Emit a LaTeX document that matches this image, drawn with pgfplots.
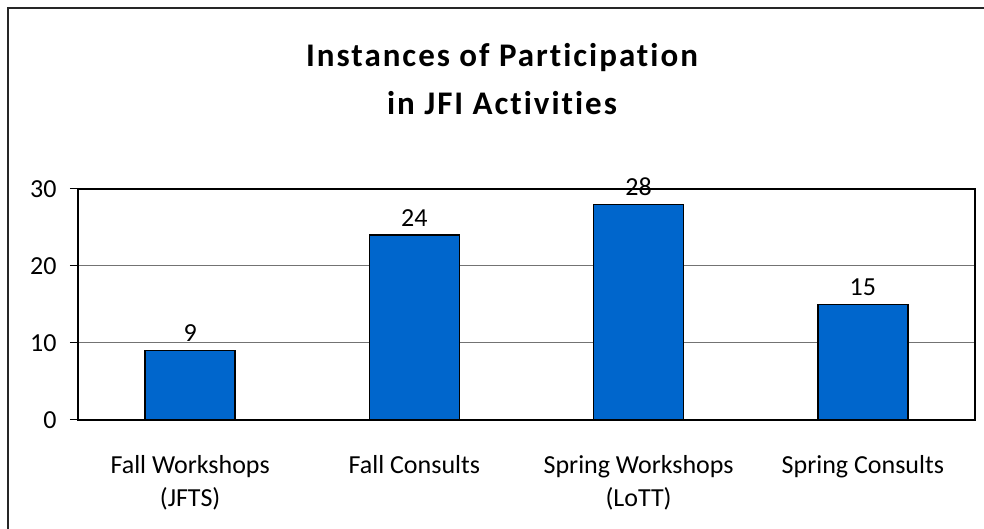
\documentclass[border=0pt]{standalone}
\usepackage{fontspec}
\setmainfont{Carlito}[Ligatures=NoCommon]
\newfontfamily\titlefont{Carlito}[Ligatures=NoCommon, LetterSpace=6]
\usepackage{pgfplots}
\pgfplotsset{compat=1.18}
\definecolor{barblue}{HTML}{0066CC}
\begin{document}
\begin{tikzpicture}[x=1pt,y=1pt]
\useasboundingbox (0,0) rectangle (984,529);
\draw[line width=2pt, black!85] (8,0) -- (8,521) -- (984,521);
\node[font=\titlefont\bfseries\fontsize{33}{48}\selectfont, align=center] at (502,450) {Instances of Participation\\in JFI Activities};
\begin{axis}[
  at={(78pt,109pt)}, anchor=south west,
  scale only axis, width=897pt, height=231pt,
  xmin=-0.5, xmax=3.5, ymin=0, ymax=30,
  ytick={0,10,20,30}, xtick={0,1,2,3},
  xticklabels={{Fall Workshops\\(JFTS)},{Fall Consults},{Spring Workshops\\(LoTT)},{Spring Consults}},
  /pgf/number format/assume math mode=true,
  ymajorgrids, grid style={black!55, line width=1pt},
  axis line style={line width=2pt},
  tick align=outside, major tick length=8pt,
  ytick pos=left,
  x tick style={draw=none},
  y tick style={black, line width=1pt},
  ticklabel style={font=\fontsize{26}{33}\selectfont},
  xticklabel style={align=center, yshift=-24pt},
  yticklabel style={xshift=-10pt},
  nodes near coords,
  nodes near coords style={font=\fontsize{26}{30}\selectfont, text=black, yshift=5pt},
  clip=false,
]
\addplot[ybar, bar width=90pt, fill=barblue, draw=black, line width=1.5pt] coordinates {(0,9) (1,24) (2,28) (3,15)};
\end{axis}
\end{tikzpicture}
\end{document}
